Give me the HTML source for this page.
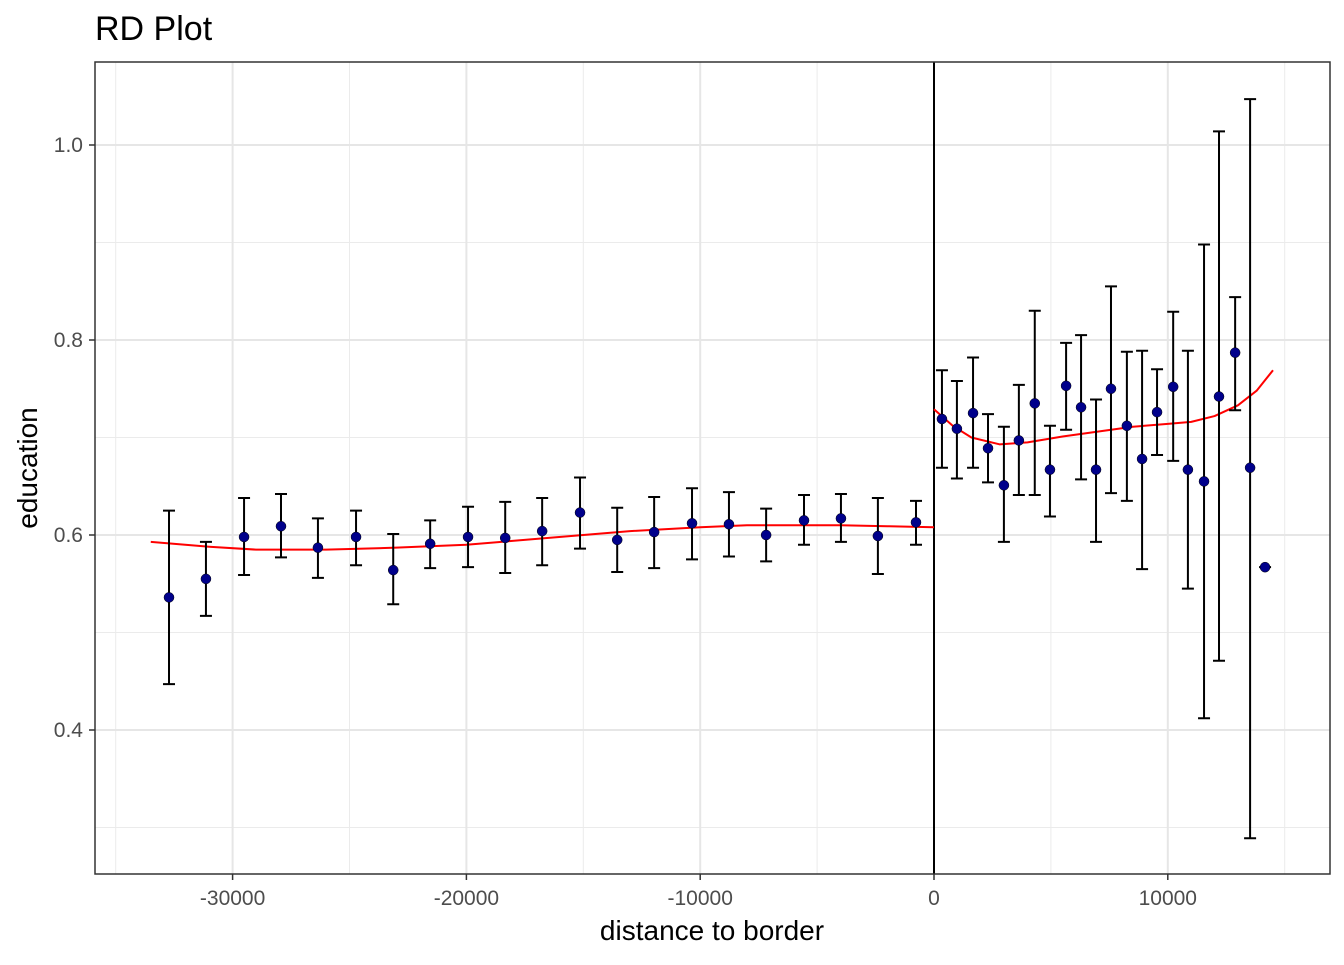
<!DOCTYPE html>
<html><head><meta charset="utf-8"><style>
body{margin:0;background:#fff;font-family:"Liberation Sans",Arial,sans-serif}
</style></head><body>
<svg id="c" width="1344" height="960" xmlns="http://www.w3.org/2000/svg">
<text x="95" y="40" font-size="34" fill="#000">RD Plot</text>
<g id="grid"></g>
<g id="fit"></g>
<g id="bars"></g>
<g id="pts"></g>
<g id="axes"></g>
<text x="712" y="940" font-size="28" text-anchor="middle">distance to border</text>
<text transform="translate(37,468) rotate(-90)" font-size="28" text-anchor="middle">education</text>
</svg>
<script>
const xs=[-32720,-31140,-29510,-27930,-26350,-24720,-23130,-21550,-19930,-18340,-16760,-15140,-13550,-11970,-10350,-8770,-7180,-5560,-3980,-2400,-770,340,980,1670,2310,2990,3630,4310,4960,5650,6290,6930,7570,8250,8900,9540,10230,10860,11550,12190,12880,13520,14160];
const ys=[0.536,0.555,0.598,0.609,0.587,0.598,0.564,0.591,0.598,0.597,0.604,0.623,0.595,0.603,0.612,0.611,0.6,0.615,0.617,0.599,0.613,0.719,0.709,0.725,0.689,0.651,0.697,0.735,0.667,0.753,0.731,0.667,0.750,0.712,0.678,0.726,0.752,0.667,0.655,0.742,0.787,0.669,0.567];
const hi=[0.625,0.593,0.638,0.642,0.617,0.625,0.601,0.615,0.629,0.634,0.638,0.659,0.628,0.639,0.648,0.644,0.627,0.641,0.642,0.638,0.635,0.769,0.758,0.782,0.724,0.711,0.754,0.830,0.712,0.797,0.805,0.739,0.855,0.788,0.789,0.770,0.829,0.789,0.898,1.014,0.844,1.047,0.567];
const lo=[0.447,0.517,0.559,0.577,0.556,0.569,0.529,0.566,0.567,0.561,0.569,0.586,0.562,0.566,0.575,0.578,0.573,0.590,0.593,0.560,0.590,0.669,0.658,0.669,0.654,0.593,0.641,0.641,0.619,0.708,0.657,0.593,0.643,0.635,0.565,0.682,0.676,0.545,0.412,0.471,0.728,0.289,0.567];
const fitLx=[-33500,-31000,-29000,-26000,-23000,-20000,-17000,-13000,-10000,-8000,-4000,-2000,0];
const fitLy=[0.593,0.588,0.585,0.585,0.587,0.590,0.596,0.604,0.608,0.610,0.610,0.609,0.608];
const fitRx=[0,800,1600,2800,4000,5500,7000,8500,10000,11000,12000,13000,13800,14500];
const fitRy=[0.729,0.712,0.700,0.693,0.695,0.701,0.706,0.711,0.714,0.716,0.722,0.733,0.748,0.769];
const xMaj=[-30000,-20000,-10000,0,10000],xMin=[-35000,-25000,-15000,-5000,5000,15000];
const yMaj=[0.4,0.6,0.8,1.0],yMin=[0.3,0.5,0.7,0.9];
const X=v=>934+v*0.02338, Y=v=>535-(v-0.6)*975;
const L=95,R=1330,T=62,B=874,NS="http://www.w3.org/2000/svg";
function el(t,a,p){const e=document.createElementNS(NS,t);for(const k in a)e.setAttribute(k,a[k]);document.getElementById(p).appendChild(e);return e;}
el('rect',{x:L,y:T,width:R-L,height:B-T,fill:'#fff'},'grid');
xMin.forEach(v=>{const e=el('line',{x1:X(v),x2:X(v),y1:T,y2:B,stroke:'#ebebeb','stroke-width':1},'grid');});
yMin.forEach(v=>{const e=el('line',{x1:L,x2:R,y1:Y(v),y2:Y(v),stroke:'#ebebeb','stroke-width':1},'grid');});
xMaj.forEach(v=>{const e=el('line',{x1:X(v),x2:X(v),y1:T,y2:B,stroke:'#e6e6e6','stroke-width':2},'grid');
const t=el('text',{x:X(v),y:B+31,'font-size':21,'text-anchor':'middle',fill:'#4d4d4d'},'axes');t.textContent=v;
el('line',{x1:X(v),x2:X(v),y1:B,y2:B+6,stroke:'#333','stroke-width':1.5},'axes');});
yMaj.forEach(v=>{const e=el('line',{x1:L,x2:R,y1:Y(v),y2:Y(v),stroke:'#e6e6e6','stroke-width':2},'grid');
const t=el('text',{x:L-12,y:Y(v)+7,'font-size':21,'text-anchor':'end',fill:'#4d4d4d'},'axes');t.textContent=v.toFixed(1);
el('line',{x1:L-6,x2:L,y1:Y(v),y2:Y(v),stroke:'#333','stroke-width':1.5},'axes');});
const b=el('rect',{x:L,y:T,width:R-L,height:B-T,fill:'none',stroke:'#333','stroke-width':1.5},'axes');
const cut=el('line',{x1:X(0),x2:X(0),y1:T,y2:B,stroke:'#000','stroke-width':2},'fit');
[[fitLx,fitLy,'fit-left'],[fitRx,fitRy,'fit-right']].forEach(([a,c,n])=>{const p=el('polyline',{points:a.map((v,i)=>X(v)+','+Y(c[i])).join(' '),fill:'none',stroke:'#ff0000','stroke-width':2,'stroke-linejoin':'round'},'fit');});
xs.forEach((v,i)=>{const x=X(v);const g=el('path',{d:`M${x},${Y(hi[i])}V${Y(lo[i])}M${x-6},${Y(hi[i])}H${x+6}M${x-6},${Y(lo[i])}H${x+6}`,stroke:'#000','stroke-width':2,fill:'none'},'bars');
const c=el('circle',{cx:x,cy:Y(ys[i]),r:5,fill:'#00008b',stroke:'#000','stroke-width':0.5},'pts');});
</script></body></html>
